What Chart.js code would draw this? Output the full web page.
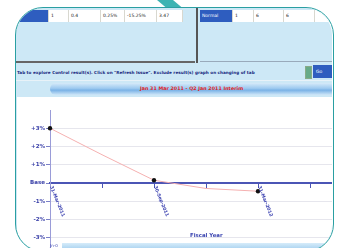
<!DOCTYPE html>
<html>
<head>
<meta charset="utf-8">
<script src="https://cdn.jsdelivr.net/npm/chart.js@4"></script>
<style>
  html, body { margin: 0; padding: 0; width: 347px; height: 248px; overflow: hidden; background: #fff; }
  body { position: relative; font-family: "DejaVu Sans", sans-serif; filter: blur(0.45px); }
  .abs { position: absolute; }
  .clip { position: absolute; left: 0; top: 0; width: 347px; height: 252px;
          clip-path: inset(8px 15px 0px 16px round 27px); background: #cde8f6; }
  .frame { position: absolute; left: 15px; top: 7px; width: 319px; height: 245px; box-sizing: border-box;
           border: 1.5px solid #2a9fa2; border-radius: 28px; }
  .stripe { position: absolute; left: 157px; top: 0; width: 16px; height: 9px; background: #3cb3b3;
            transform: skewX(50deg); transform-origin: top left; }
  .cell { position: absolute; top: 10px; height: 12px; background: #fff; border-right: 1px solid #d8d8d0;
          font-size: 4.5px; line-height: 12px; color: #222; padding-left: 2px; box-sizing: border-box; }
  .hcell { background: #2e5dbf; color: #fff; }
  .tiny { font-size: 4.2px; color: #1a2a80; white-space: nowrap; font-weight: bold; }
</style>
</head>
<body>
<div class="stripe"></div>
<div class="clip">
  <!-- top left table row -->
  <div class="cell hcell" style="left:15px;width:34px;"></div>
  <div class="cell" style="left:49px;width:20px;">1</div>
  <div class="cell" style="left:69px;width:32px;">0.4</div>
  <div class="cell" style="left:101px;width:24px;">0.25%</div>
  <div class="cell" style="left:125px;width:32px;">-15.25%</div>
  <div class="cell" style="left:157px;width:26px;">3.47</div>
  <!-- top right table row -->
  <div class="cell hcell" style="left:200px;width:33px;">Normal</div>
  <div class="cell" style="left:233px;width:21px;">1</div>
  <div class="cell" style="left:254px;width:30px;">6</div>
  <div class="cell" style="left:284px;width:31px;">6</div>
  <div class="cell" style="left:315px;width:20px;"></div>
  <div class="abs" style="left:196px;top:8px;width:2px;height:55px;background:#555;"></div>
  <div class="abs" style="left:15px;top:61px;width:180px;height:1.5px;background:#666;"></div>
  <div class="abs" style="left:200px;top:61px;width:135px;height:1px;background:#9ab;"></div>
  <!-- message row -->
  <div class="abs tiny" style="left:17px;top:69.5px;">Tab to explore Control result(s). Click on "Refresh Issue". Exclude result(s) graph on changing of tab</div>
  <div class="abs" style="left:305px;top:66px;width:5px;height:11px;background:#6a8;border:1px solid #8a8;"></div>
  <div class="abs" style="left:313px;top:65px;width:22px;height:13px;background:#2e5dbf;color:#fff;font-size:4.5px;line-height:13px;padding-left:3px;">Go</div>
  <div class="abs" style="left:15px;top:80px;width:320px;height:1px;background:#e8f2f8;"></div>
  <!-- banner -->
  <div class="abs" style="left:50px;top:83px;width:285px;height:12px;border-radius:6px 0 0 6px;
       background:linear-gradient(to bottom,#d6eaf9 0%,#9cc9ef 45%,#7ab2e6 60%,#d0e7f8 100%);"></div>
  <div class="abs" style="left:140px;top:85.5px;font-size:4.8px;font-weight:bold;color:#e02222;white-space:nowrap;">Jan 31 Mar 2011 - Q2 Jan 2011 Interim</div>
  <!-- chart panel -->
  <div class="abs" style="left:17px;top:97px;width:320px;height:160px;background:#fff;"></div>
  <div class="abs" style="left:17px;top:97px;width:360px;height:180px;">
    <canvas id="c" width="360" height="180"></canvas>
  </div>
  <div class="abs" style="left:190px;top:232px;font-size:5.4px;font-weight:bold;color:#3a44b0;">Fiscal Year</div>
  <div class="abs" style="left:62px;top:243px;width:275px;height:6px;background:linear-gradient(to bottom,#d6ecfa,#a9d2f0);"></div>
  <div class="abs" style="left:50px;top:243px;font-size:4px;color:#3a44b0;">Jn-0</div>
</div>
<div class="frame"></div>

<script>
// x categories (only every other one is labelled)
const categories = ['31-Mar-2011', '', '30-Sep-2011', '', '31-Mar-2012', '', ''];
// change vs base, in %
const scenarioValues = [3.0, 1.55, 0.15, -0.3, -0.45, null, null];
const markerSizes = [2.2, 0, 2.2, 0, 2.2, 0, 0];
const yTickValues = [-3, -2, -1, 0, 1, 2, 3];
const yTickLabels = ['-3%', '-2%', '-1%', 'Base', '+1%', '+2%', '+3%'];

// category labels hang below the zero axis, turned clockwise
const xLabelPlugin = {
    id: 'xLabels',
    afterDraw(chart) {
        const ctx = chart.ctx;
        const x = chart.scales.x;
        const y0 = chart.scales.y.getPixelForValue(0);
        ctx.save();
        ctx.font = 'bold 4.6px "DejaVu Sans"';
        ctx.fillStyle = '#3a40b0';
        ctx.textAlign = 'left';
        ctx.textBaseline = 'middle';
        categories.forEach((lab, i) => {
            if (!lab) return;
            ctx.save();
            ctx.translate(x.getPixelForValue(i) + 1, y0 + 3);
            ctx.rotate(68 * Math.PI / 180);
            ctx.fillText(lab, 0, 0);
            ctx.restore();
        });
        ctx.restore();
    }
};

new Chart(document.getElementById('c'), {
    type: 'line',
    data: {
        labels: categories,
        datasets: [{
            data: scenarioValues,
            borderColor: '#f5b0b0',
            borderWidth: 1,
            pointRadius: markerSizes,
            pointBackgroundColor: '#111',
            pointBorderColor: '#111',
            pointBorderWidth: 0,
            tension: 0
        }]
    },
    options: {
        responsive: false,
        animation: false,
        layout: { padding: { top: 13, right: 15, bottom: 21, left: 0 } },
        plugins: { legend: { display: false }, tooltip: { enabled: false } },
        scales: {
            x: {
                position: { y: 0 },
                offset: false,
                grid: { drawOnChartArea: false, tickLength: 4, color: '#4b55b5', lineWidth: 1 },
                border: { color: '#4b55b5', width: 2 },
                ticks: { display: false, autoSkip: false }
            },
            y: {
                min: -4,
                max: 4,
                afterBuildTicks: s => { s.ticks = yTickValues.map(v => ({ value: v })); },
                afterFit: s => { s.width = 33; },
                grid: { color: 'rgba(200,200,215,0.45)', tickLength: 4, tickColor: '#7a80c8' },
                border: { color: '#9a9cd8', width: 1 },
                ticks: {
                    padding: 1,
                    color: '#3a40a8',
                    font: { family: 'DejaVu Sans', size: 5.5, weight: 'bold' },
                    callback: v => yTickLabels[yTickValues.indexOf(v)]
                }
            }
        }
    },
    plugins: [xLabelPlugin]
});
</script>
</body>
</html>
